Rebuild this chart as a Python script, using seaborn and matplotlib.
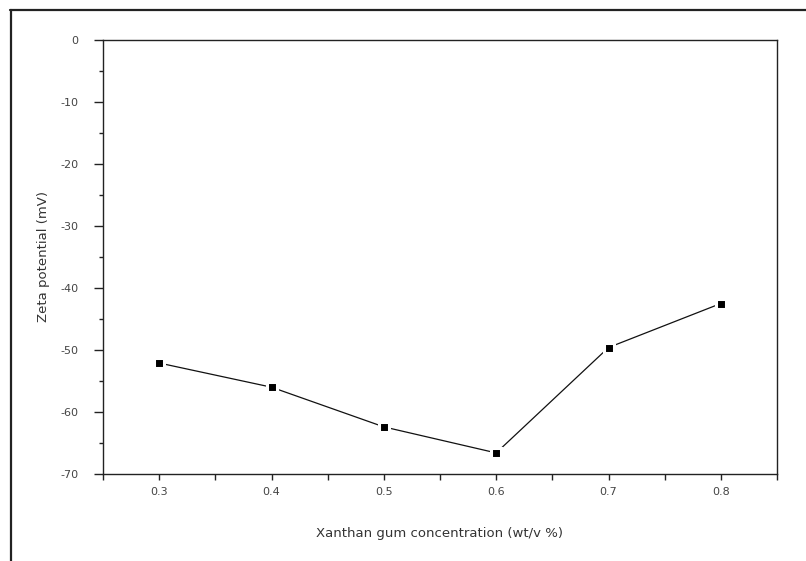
import numpy as np
import pandas as pd
import matplotlib
matplotlib.use("Agg")
import matplotlib.pyplot as plt
from matplotlib.ticker import MultipleLocator
from matplotlib.lines import Line2D
import seaborn as sns

# data
concentration = [0.3, 0.4, 0.5, 0.6, 0.7, 0.8]
zeta_mv = [-52.1, -56.0, -62.4, -66.6, -49.6, -42.5]
x_ticks = [0.3, 0.4, 0.5, 0.6, 0.7, 0.8]
y_ticks = [0, -10, -20, -30, -40, -50, -60, -70]

sns.set_theme(style="ticks")
plt.rcParams['font.family'] = ['DejaVu Sans']
plt.rcParams['axes.unicode_minus'] = False

df = pd.DataFrame({"conc": concentration, "zeta": zeta_mv})

fig = plt.figure(figsize=(8.06, 5.61), dpi=100)
fig.patch.set_facecolor('white')
ax = fig.add_axes([103 / 806, 1 - 474 / 561, 674 / 806, 434 / 561])

sns.lineplot(data=df, x="conc", y="zeta", ax=ax, color='#111111', linewidth=0.9,
             marker='s', markersize=7.6, markerfacecolor='black',
             markeredgecolor='white', markeredgewidth=2.2)

ax.set_xlim(0.25, 0.85)
ax.set_ylim(-70, 0)
ax.set_xticks(x_ticks)
ax.set_xticklabels([f"{v:.1f}" for v in x_ticks])
ax.set_yticks(y_ticks)
ax.set_yticklabels([str(v) for v in y_ticks])
ax.xaxis.set_minor_locator(MultipleLocator(0.05))
ax.yaxis.set_minor_locator(MultipleLocator(5))

for s in ax.spines.values():
    s.set_color('#222222')
    s.set_linewidth(1.0)

ax.tick_params(axis='x', which='major', direction='out', length=4.5, width=1.0,
               color='#222222', labelsize=8, labelcolor='#444444', pad=5)
ax.tick_params(axis='x', which='minor', direction='out', length=4, width=1.0, color='#222222')
ax.tick_params(axis='y', which='major', direction='out', length=6.5, width=1.0,
               color='#222222', labelsize=8, labelcolor='#444444', pad=11)
ax.tick_params(axis='y', which='minor', direction='out', length=3, width=1.0, color='#222222')
ax.tick_params(top=False, right=False, which='both')

ax.set_xlabel("Xanthan gum concentration (wt/v %)", fontsize=9.5, color='#333333')
ax.set_ylabel("Zeta potential (mV)", fontsize=9.5, color='#333333')
ax.xaxis.label.set_va('center')
ax.xaxis.set_label_coords(0.5, -(533 - 474) / 434)
ax.yaxis.label.set_va('center')
ax.yaxis.set_label_coords((43 - 103) / 674, 0.5)

# partial outer frame (top and left edges) as in the source image
fig.add_artist(Line2D([10 / 806, 1.0], [1 - 9.5 / 561, 1 - 9.5 / 561],
                      transform=fig.transFigure, color='#222222', linewidth=1.6))
fig.add_artist(Line2D([10.5 / 806, 10.5 / 806], [0.0, 1 - 9.5 / 561],
                      transform=fig.transFigure, color='#222222', linewidth=1.6))

fig.savefig("out.png", dpi=100)
